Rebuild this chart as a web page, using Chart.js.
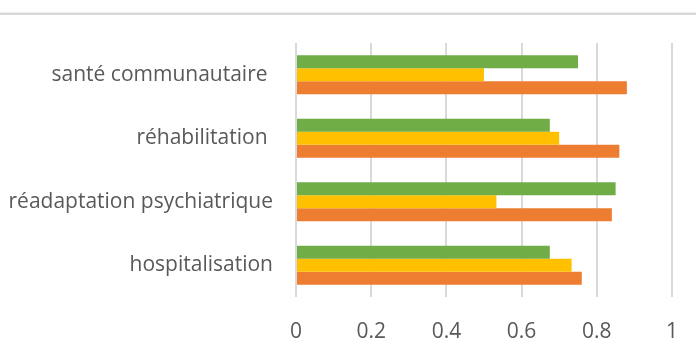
<!DOCTYPE html>
<html>
<head>
<meta charset="utf-8">
<script src="https://cdn.jsdelivr.net/npm/chart.js@4/dist/chart.umd.min.js"></script>
<style>
html,body{margin:0;padding:0;background:#fff;}
#wrap{width:696px;height:351px;position:relative;}
</style>
</head>
<body>
<div id="wrap"><canvas id="c" width="696" height="351"></canvas></div>
<script>
// Categories listed top to bottom
const categories = ["santé communautaire ", "réhabilitation ", "réadaptation psychiatrique", "hospitalisation"];
const seriesGreen  = [0.75, 0.675, 0.85, 0.675];
const seriesYellow = [0.50, 0.70, 0.533, 0.733];
const seriesOrange = [0.88, 0.86, 0.84, 0.76];
const xTicks = [0, 0.2, 0.4, 0.6, 0.8, 1];

const FONT = "'Open Sans', sans-serif";
const TEXT = "#595959";

const topLine = {
  id: 'topLine',
  beforeDraw(chart) {
    const ctx = chart.ctx;
    ctx.save();
    ctx.fillStyle = '#ececec';
    ctx.fillRect(0, 12, chart.width, 1);
    ctx.fillStyle = '#d9d9d9';
    ctx.fillRect(0, 13, chart.width, 2);
    ctx.restore();
  }
};

new Chart(document.getElementById('c'), {
  type: 'bar',
  data: {
    labels: categories,
    datasets: [
      { label: 'Série 3', data: seriesGreen,  backgroundColor: '#70AD47' },
      { label: 'Série 2', data: seriesYellow, backgroundColor: '#FFC000' },
      { label: 'Série 1', data: seriesOrange, backgroundColor: '#ED7D31' }
    ]
  },
  options: {
    indexAxis: 'y',
    responsive: false,
    animation: false,
    devicePixelRatio: 1,
    layout: { padding: { left: 0, right: 24, top: 43, bottom: 0 } },
    datasets: { bar: { categoryPercentage: 0.613, barPercentage: 1.0, borderWidth: 0 } },
    plugins: { legend: { display: false }, tooltip: { enabled: false } },
    scales: {
      x: {
        min: 0, max: 1,
        afterBuildTicks(scale) { scale.ticks = xTicks.map(v => ({ value: v })); },
        afterFit(scale) { scale.height = 54; scale.paddingRight = 0; scale.paddingLeft = 0; },
        grid: { color: '#d9d9d9', lineWidth: 2, drawTicks: false },
        border: { display: false },
        ticks: {
          padding: 22,
          color: TEXT,
          font: { family: FONT, size: 21 },
          callback: (v) => String(v)
        }
      },
      y: {
        afterFit(scale) { scale.width = 296; scale.paddingTop = 0; scale.paddingBottom = 0; },
        grid: { display: false, drawTicks: false },
        border: { display: false },
        ticks: {
          padding: 23,
          color: TEXT,
          font: { family: FONT, size: 21 }
        }
      }
    }
  },
  plugins: [topLine]
});
</script>
</body>
</html>
